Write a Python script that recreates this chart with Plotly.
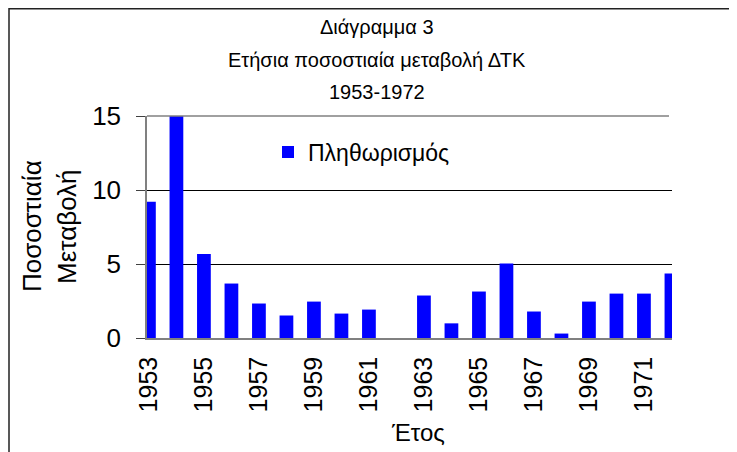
import plotly.graph_objects as go

years = list(range(1953, 1973))
inflation = [9.2, 15.0, 5.68, 3.68, 2.33, 1.52, 2.46, 1.65, 1.92, 0.0,
             2.87, 0.99, 3.14, 5.03, 1.79, 0.30, 2.46, 3.00, 3.00, 4.36]
tick_years = [1953, 1955, 1957, 1959, 1961, 1963, 1965, 1967, 1969, 1971]
title_lines = ["Διάγραμμα 3", "Ετήσια ποσοστιαία μεταβολή ΔΤΚ", "1953-1972"]
series_name = "Πληθωρισμός"
y_title_lines = ["Ποσοστιαία", "Μεταβολή"]
x_title = "Έτος"

OFF = 8  # page body margin
W, H = 737 - OFF, 452 - OFF
L, T = 147 - OFF, 116 - OFF
PLOT_R, PLOT_B = 672 - OFF, 338 - OFF
R, B = W - PLOT_R, H - PLOT_B
PW, PH = PLOT_R - L, PLOT_B - T

def px(xp):
    return (xp - OFF - L) / PW

def py(yp):
    return (PLOT_B - (yp - OFF)) / PH

FONT = "Liberation Sans, Arial, sans-serif"

fig = go.Figure()
fig.add_trace(go.Bar(x=years, y=inflation, name=series_name,
                     marker=dict(color="#0000FF", line=dict(width=0)),
                     showlegend=True))

ann = []
for i, line in enumerate(title_lines):
    ann.append(dict(text=line, x=px(377), y=py(27 + 32.5 * i), xref="paper", yref="paper",
                    xanchor="center", yanchor="middle", showarrow=False,
                    font=dict(family=FONT, size=20, color="black")))
for xc, line in zip([32, 67], y_title_lines):
    ann.append(dict(text=line, x=px(xc), y=py(226), xref="paper", yref="paper",
                    xanchor="center", yanchor="middle", showarrow=False, textangle=-90,
                    font=dict(family=FONT, size=26, color="black")))
ann.append(dict(text=x_title, x=px(418), y=py(432), xref="paper", yref="paper",
                xanchor="center", yanchor="middle", showarrow=False,
                font=dict(family=FONT, size=24, color="black")))

shapes = [
    dict(type="rect", xref="paper", yref="paper", x0=px(9), x1=px(760), y0=py(8.75), y1=py(480),
         line=dict(color="#222222", width=1.5), fillcolor="rgba(0,0,0,0)", layer="above"),
    dict(type="line", xref="paper", yref="paper", x0=0, x1=px(669), y0=1, y1=1,
         line=dict(color="#808080", width=1.5), layer="above"),
]

fig.update_layout(
    width=W, height=H,
    margin=dict(l=L, r=R, t=T, b=B, pad=0),
    paper_bgcolor="white", plot_bgcolor="white",
    bargap=0.5,
    font=dict(family=FONT, color="black"),
    annotations=ann, shapes=shapes,
    legend=dict(x=px(268), y=py(152), xanchor="left", yanchor="middle",
                font=dict(family=FONT, size=23, color="black"),
                bgcolor="rgba(0,0,0,0)"),
    xaxis=dict(range=[1952.93, 1972.02], tickvals=tick_years, ticktext=[str(t) for t in tick_years],
               tickangle=-90, tickfont=dict(family=FONT, size=25, color="black"),
               showgrid=False, zeroline=False, showline=True, linecolor="#808080", linewidth=1.5,
               ticks="", ticklabelstandoff=7),
    yaxis=dict(range=[0, 15], tickvals=[0, 5, 10, 15], tickfont=dict(family=FONT, size=26, color="black"),
               showgrid=True, gridcolor="black", gridwidth=1, zeroline=False,
               showline=True, linecolor="#808080", linewidth=1.5,
               ticks="outside", ticklen=9, tickcolor="#404040", tickwidth=1,
               ticklabelstandoff=10),
)

fig.write_html("out.html")
